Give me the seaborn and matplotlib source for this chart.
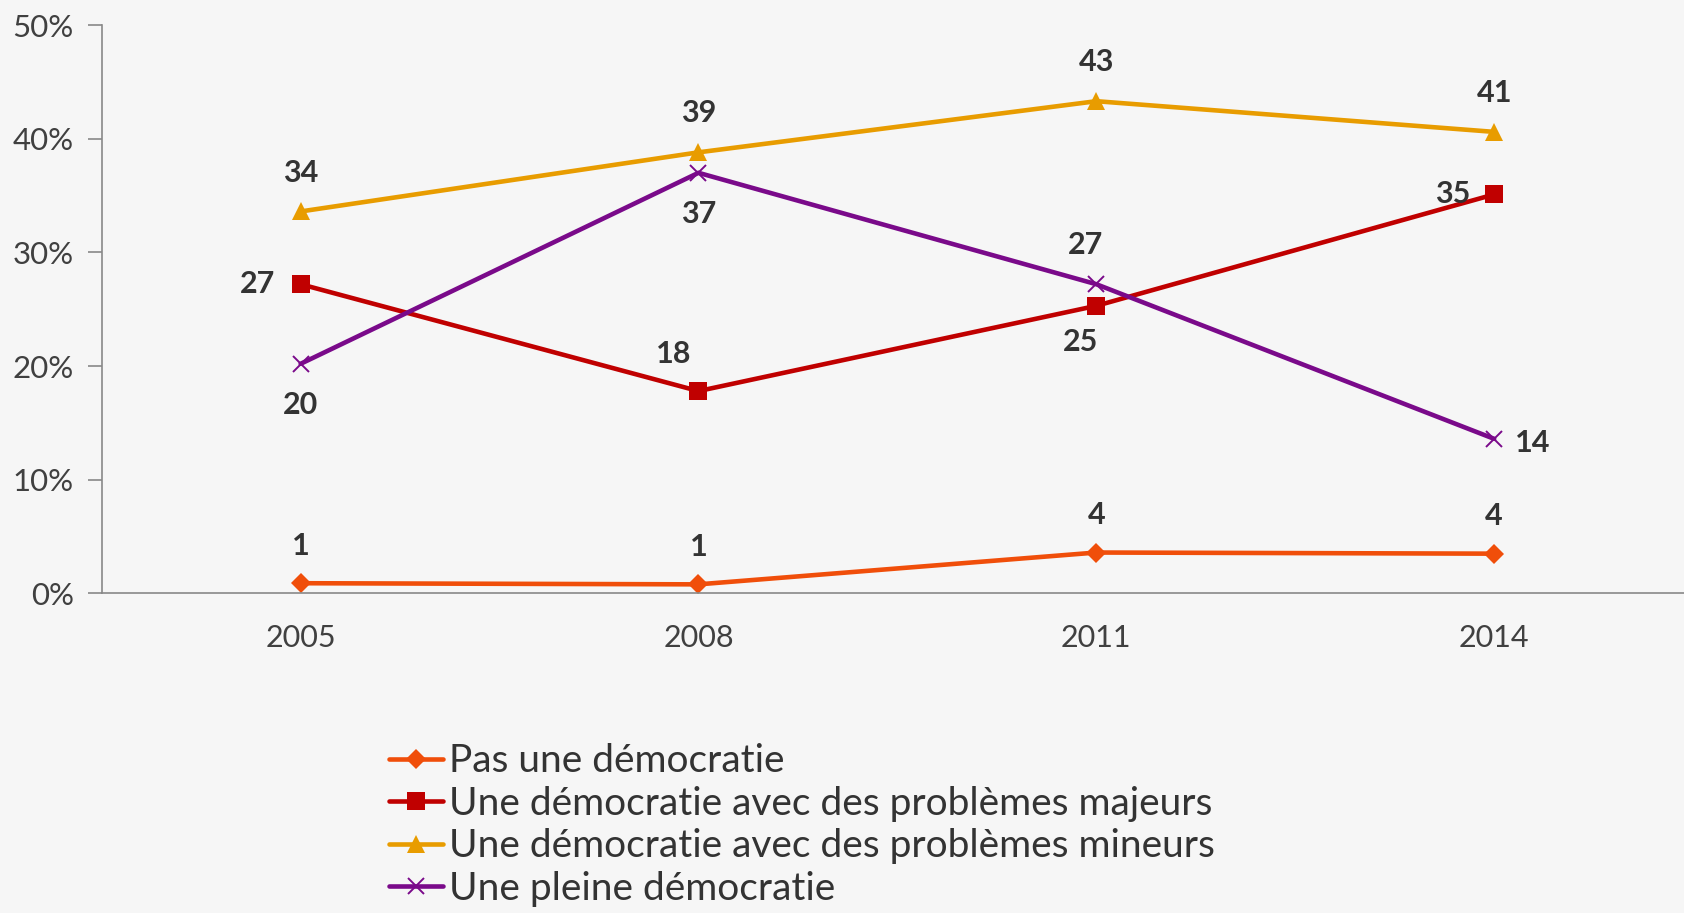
import numpy as np
import pandas as pd
import matplotlib.pyplot as plt
import seaborn as sns

# Data (percent)
years = ["2005", "2008", "2011", "2014"]
pas_democratie = [0.9, 0.8, 3.6, 3.5]
probl_majeurs = [27.2, 17.8, 25.3, 35.1]
probl_mineurs = [33.6, 38.8, 43.3, 40.6]
pleine_democratie = [20.2, 37.0, 27.2, 13.6]

series_names = [
    "Pas une démocratie",
    "Une démocratie avec des problèmes majeurs",
    "Une démocratie avec des problèmes mineurs",
    "Une pleine démocratie",
]
series_values = [pas_democratie, probl_majeurs, probl_mineurs, pleine_democratie]

# Style
sns.set_style("white")
plt.rcParams["font.family"] = ["Lato", "DejaVu Sans"]

colors = ["#F04E0A", "#C00000", "#E89C00", "#7A0A8A"]
markers = ["D", "s", "^", "x"]
msizes = [10, 13, 13, 12]

# label offsets in points (dx, dy) for each point
offsets = [
    [(0, 27), (0, 27), (0, 27), (0, 27)],
    [(-31, 0), (-18, 27), (-11, -26), (-30, 0)],
    [(0, 28), (0, 28), (0, 28), (0, 28)],
    [(0, -30), (0, -30), (-8, 28), (28, -3)],
]

bg = "#F6F6F6"
fig = plt.figure(figsize=(16.84, 9.13), dpi=100, facecolor=bg)
ax = fig.add_axes([0.0604, 0.35, 0.945, 0.6226])
ax.set_facecolor(bg)

xpos = np.arange(len(years))

for name, vals, col, mk, ms, offs in zip(series_names, series_values, colors, markers, msizes, offsets):
    sns.lineplot(
        x=xpos, y=vals, ax=ax,
        color=col, linewidth=3.3,
        marker=mk, markersize=ms,
        markeredgecolor=col, markeredgewidth=1.4 if mk == "x" else 0,
        label=name,
    )
    for x, v, (dx, dy) in zip(xpos, vals, offs):
        ax.annotate(
            f"{v:.0f}", (x, v), xytext=(dx, dy), textcoords="offset points",
            ha="center", va="center", fontsize=22, fontweight="bold", color="#333333",
        )

ax.set_xlim(-0.5, len(years) - 0.5)
ax.set_ylim(0, 50)
ax.set_yticks(range(0, 51, 10))
ax.set_yticklabels([f"{t}%" for t in range(0, 51, 10)])
ax.set_xticks(xpos)
ax.set_xticklabels(years)
ax.set_xticks(np.arange(-0.5, len(years)), minor=True)
ax.tick_params(axis="x", which="major", length=0, pad=22, labelsize=22, labelcolor="#404040")
ax.tick_params(axis="x", which="minor", length=10, width=1.2, color="#888888", direction="out")
ax.tick_params(axis="y", length=10, width=1.2, color="#888888", direction="out",
               labelsize=22.5, labelcolor="#404040", pad=10, left=True)
ax.set_xlabel("")
ax.set_ylabel("")

for s in ["top", "right"]:
    ax.spines[s].set_visible(False)
for s in ["left", "bottom"]:
    ax.spines[s].set_color("#888888")
    ax.spines[s].set_linewidth(1.2)

handles, labels = ax.get_legend_handles_labels()
ax.get_legend().remove()
fig.legend(
    handles, labels, loc="upper left", bbox_to_anchor=(0.231, 0.186),
    frameon=False, fontsize=28, handlelength=1.4, handletextpad=0.14,
    labelspacing=0.17, borderpad=0, borderaxespad=0, labelcolor="#333333",
)

fig.savefig("out.png", dpi=100, facecolor=bg)
